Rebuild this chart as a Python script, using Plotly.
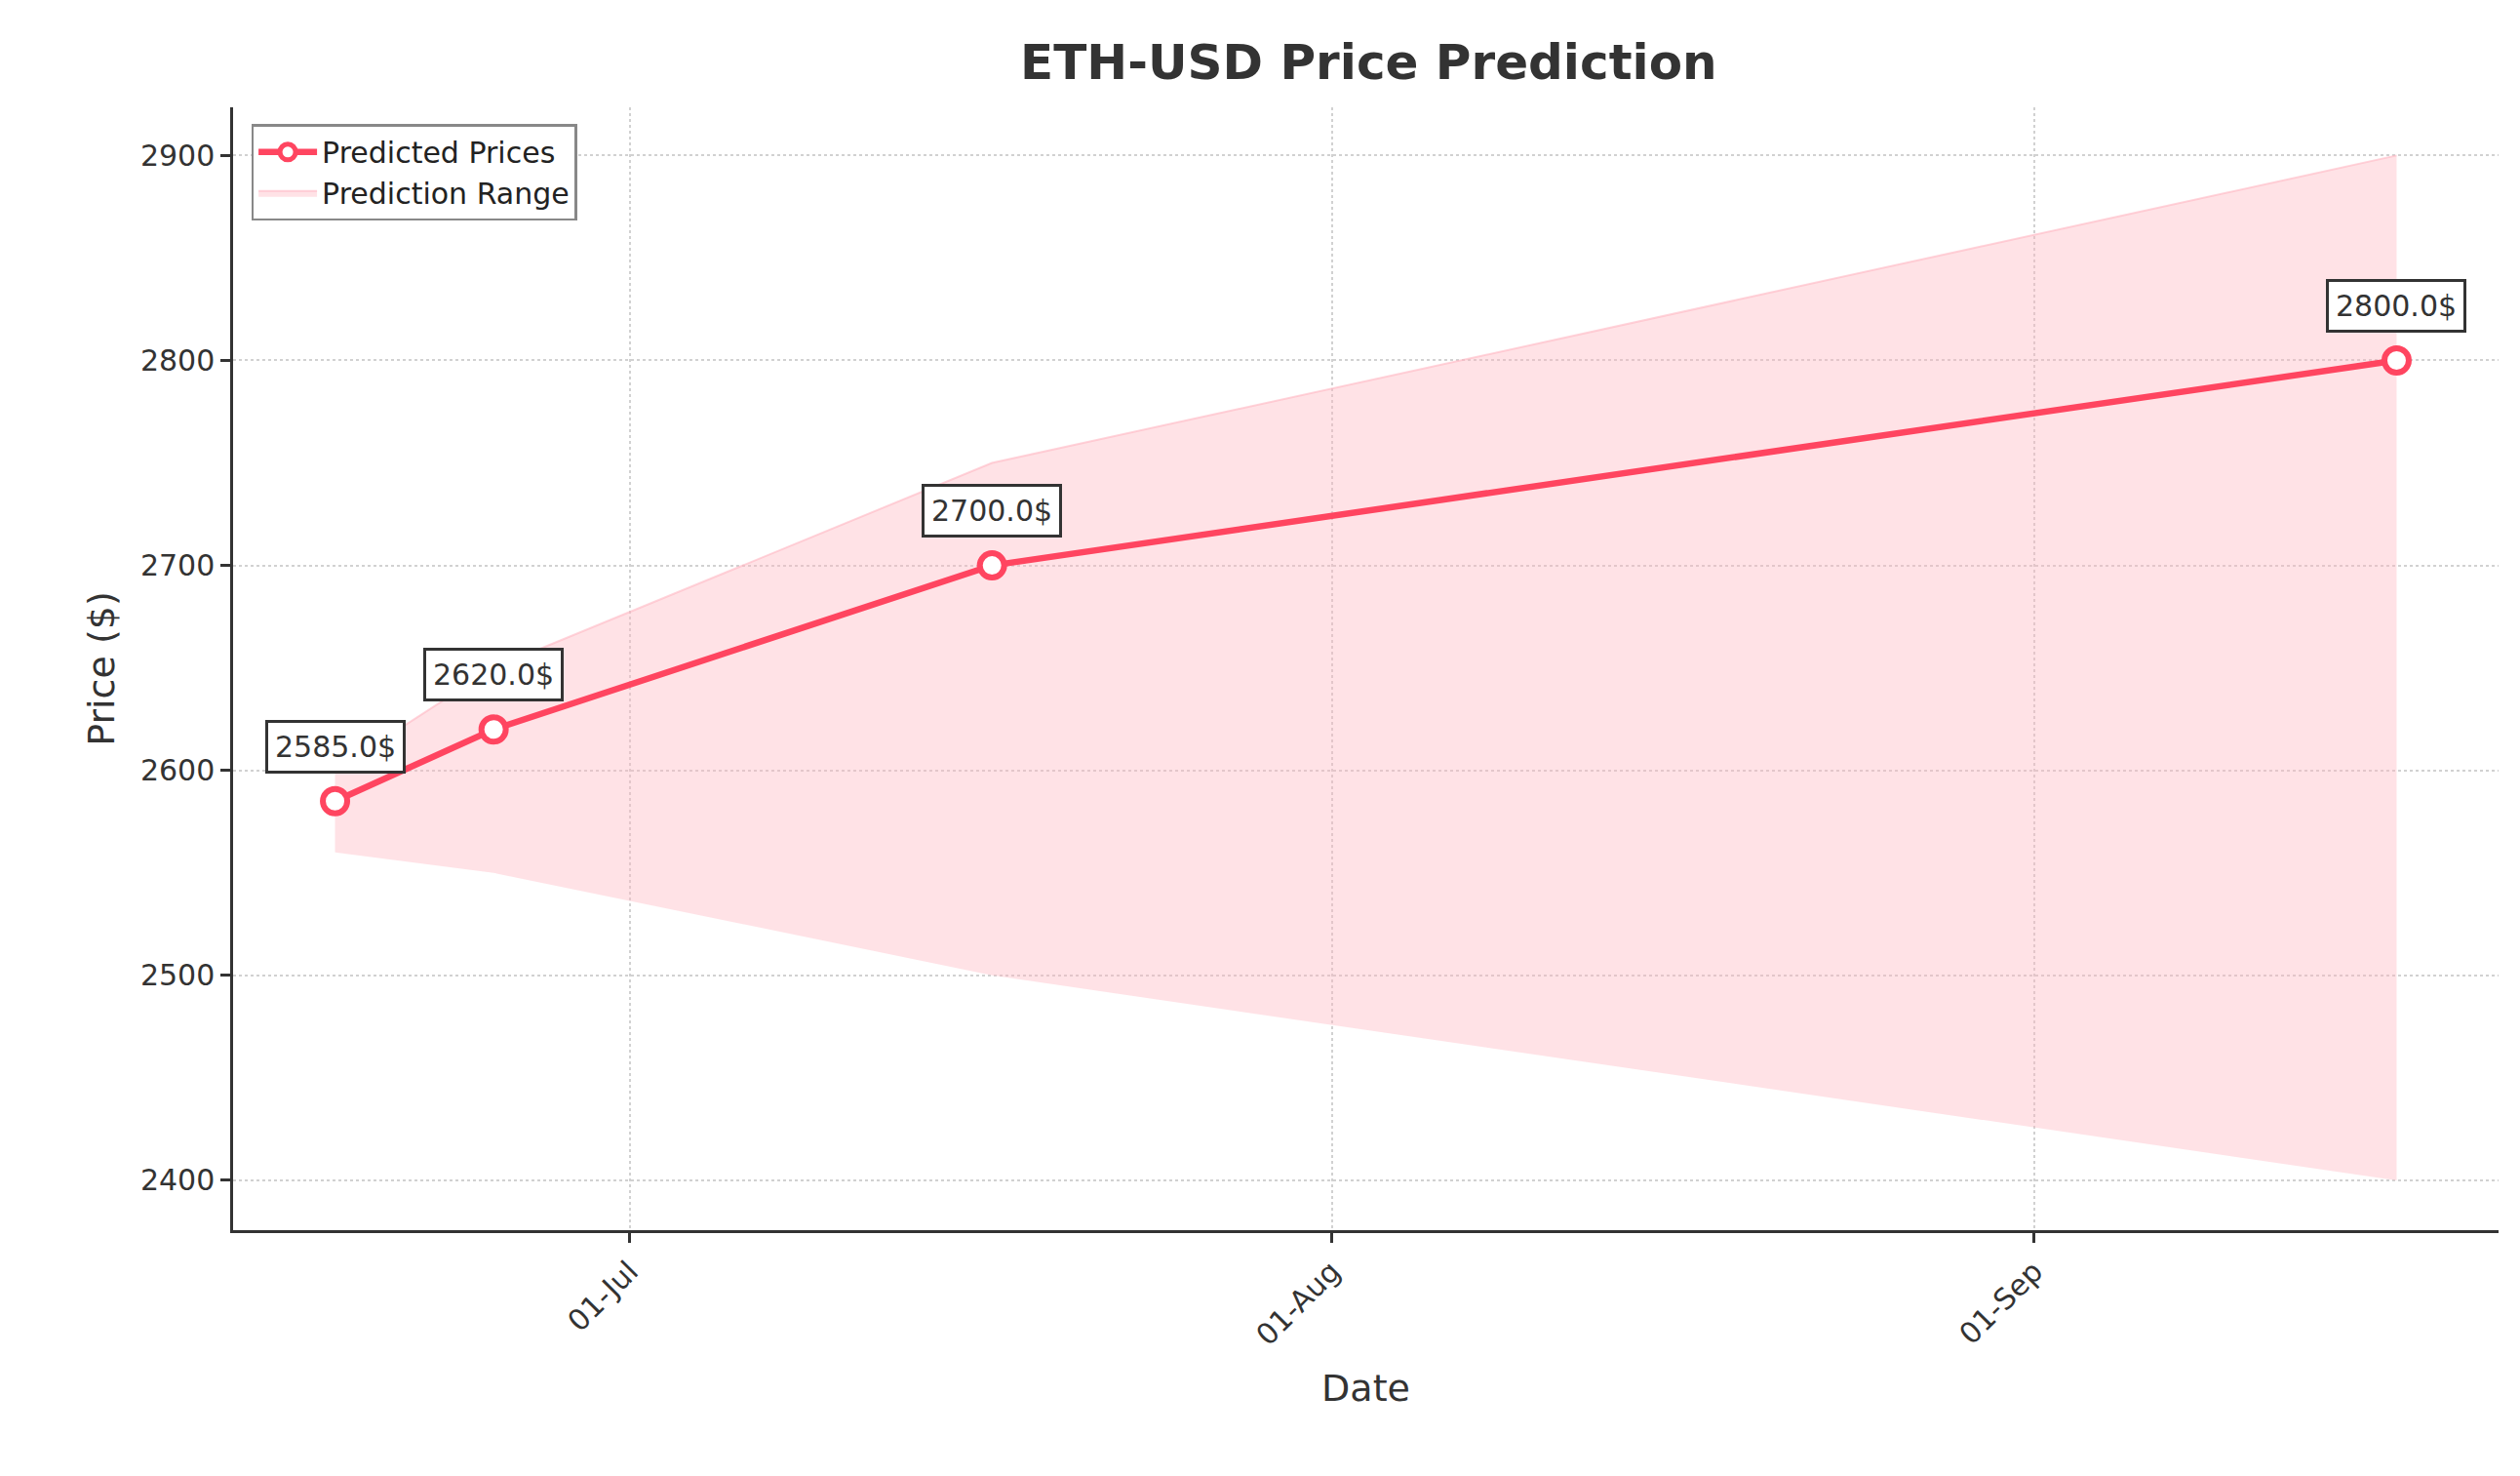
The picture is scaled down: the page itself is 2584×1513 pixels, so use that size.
import plotly.graph_objects as go

DATES = ["2024-06-18", "2024-06-25", "2024-07-17", "2024-09-17"]
PREDICTED = [2585.0, 2620.0, 2700.0, 2800.0]
LOWER = [2560, 2550, 2500, 2400]
UPPER = [2600, 2650, 2750, 2900]
TICK_VALS = ["2024-07-01", "2024-08-01", "2024-09-01"]
TICK_TEXT = ["01-Jul", "01-Aug", "01-Sep"]

RED = "#ff4560"
FONT = "DejaVu Sans"

fig = go.Figure()
fig.add_trace(go.Scatter(x=DATES, y=LOWER, mode="lines", line={"width": 0},
                         showlegend=False, hoverinfo="skip"))
fig.add_trace(go.Scatter(x=DATES, y=UPPER, mode="lines", fill="tonexty",
                         fillcolor="rgba(255,182,193,0.4)",
                         line={"width": 2, "color": "rgba(255,182,193,0.6)"},
                         name="Prediction Range"))
fig.add_trace(go.Scatter(x=DATES, y=PREDICTED, mode="lines+markers",
                         name="Predicted Prices",
                         line={"color": RED, "width": 6.5},
                         marker={"size": 25, "color": "white",
                                 "line": {"color": RED, "width": 6}}))

for d, p in zip(DATES, PREDICTED):
    fig.add_annotation(x=d, y=p, text=f"{p}$", showarrow=False, yshift=56,
                       font={"family": FONT, "size": 30, "color": "#333"},
                       bgcolor="white", bordercolor="#333", borderwidth=3,
                       borderpad=7)

axis_common = dict(showline=True, linecolor="#333", linewidth=2.5,
                   ticks="outside", ticklen=10, tickwidth=2.5, tickcolor="#333",
                   showgrid=True, gridcolor="rgba(0,0,0,0.18)", griddash="dot",
                   gridwidth=2, zeroline=False,
                   tickfont={"family": FONT, "size": 30, "color": "#333"},
                   title_font={"family": FONT, "size": 38, "color": "#333"})

fig.update_layout(
    width=2584, height=1513,
    paper_bgcolor="white", plot_bgcolor="white",
    margin={"l": 231, "r": 30, "t": 102, "b": 260},
    title={"text": "<b>ETH-USD Price Prediction</b>", "x": 0.54, "y": 0.975,
           "font": {"family": FONT, "size": 50, "color": "#333"}},
    xaxis=dict(axis_common, title_text="Date", title_standoff=25,
               range=["2024-06-13 12:00", "2024-09-21 12:00"],
               tickvals=TICK_VALS, ticktext=TICK_TEXT, tickangle=-45),
    yaxis=dict(axis_common, title_text="Price ($)", range=[2375.7, 2923.5],
               tickvals=[2400, 2500, 2600, 2700, 2800, 2900]),
    legend={"x": 0.008, "y": 0.985, "xanchor": "left", "yanchor": "top",
            "bordercolor": "#888", "borderwidth": 2.5, "bgcolor": "white",
            "font": {"family": FONT, "size": 30, "color": "#222"},
            "traceorder": "reversed", "itemwidth": 60},
)

fig.write_html("out.html")
